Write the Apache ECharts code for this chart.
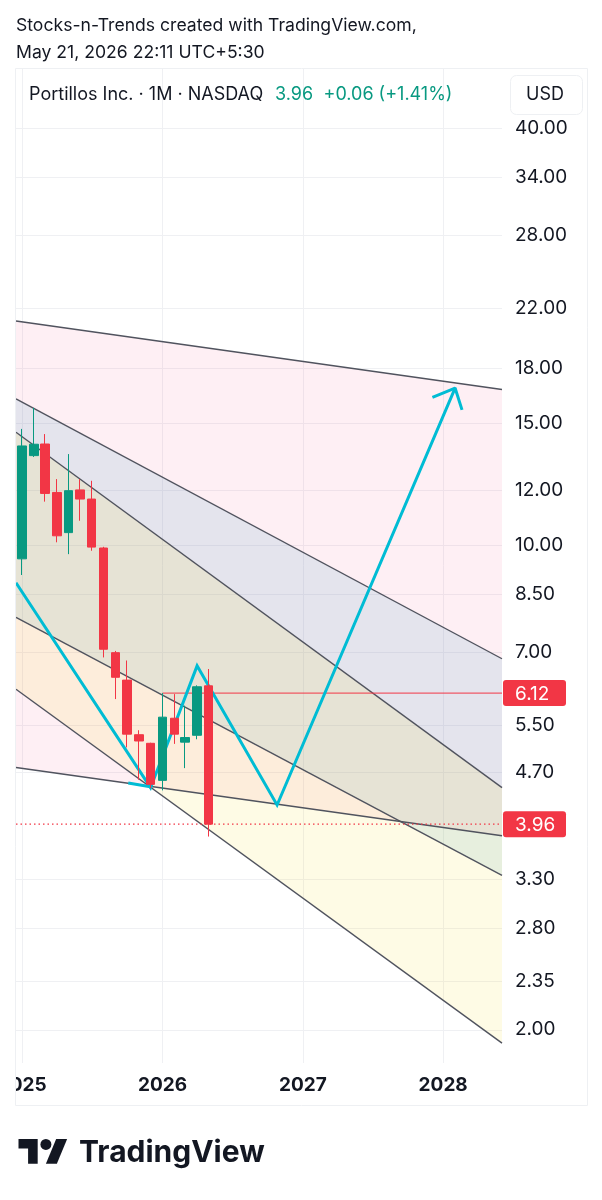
<!DOCTYPE html>
<html><head><meta charset="utf-8">
<script src="https://cdn.jsdelivr.net/npm/echarts@6/dist/echarts.min.js"></script>
<style>html,body{margin:0;padding:0;background:#fff}#c{width:602px;height:1200px}</style>
</head><body><div id="c"></div>
<script>
// ---- data ----
const months = ['2025-01-01','2025-02-01','2025-03-01','2025-04-01','2025-05-01','2025-06-01','2025-07-01','2025-08-01','2025-09-01','2025-10-01','2025-11-01','2025-12-01','2026-01-01','2026-02-01','2026-03-01','2026-04-01','2026-05-01'];
const open  = [9.56, 13.47, 14.00, 11.92, 10.43, 12.02, 11.66, 9.91, 7.00, 6.39, 5.33, 5.18, 4.58, 5.63, 5.20, 5.32, 6.27];
const high  = [14.72, 15.78, 14.47, 12.46, 13.54, 12.46, 12.39, 9.95, 7.04, 6.82, 5.41, 5.19, 6.12, 6.10, 5.87, 6.28, 6.63];
const low   = [9.06, 13.41, 11.56, 10.10, 9.71, 10.85, 9.82, 6.89, 6.00, 5.11, 4.59, 4.46, 4.43, 5.17, 4.77, 5.25, 3.80];
const close = [13.91, 13.99, 11.88, 10.32, 11.99, 11.66, 9.94, 7.08, 6.45, 5.34, 5.22, 4.52, 5.65, 5.34, 5.28, 6.25, 3.96];

const yTicks = [2.00, 2.35, 2.80, 3.30, 4.70, 5.50, 7.00, 8.50, 10.00, 12.00, 15.00, 18.00, 22.00, 28.00, 34.00, 40.00];
const yearTicks = ['2025-01-01','2026-01-01','2027-01-01','2028-01-01'];
const viewStart = '2024-12-16', viewEnd = '2028-06-02';
const yMin = 1.791, yMax = 48.82;

// trend lines: price at viewStart, price at viewEnd
const lineL1 = [21.07, 16.78];
const lineL2 = [16.26, 6.86];
const lineL3 = [14.56, 4.47];
const lineL4 = [7.87, 3.34];
const lineL5 = [6.20, 1.913];
const lineL6 = [4.78, 3.81];

// projection path
const zigzagDates  = ['2024-12-16','2025-12-01','2026-04-01','2026-10-26','2028-02-01'];
const zigzagPrices = [8.83, 4.47, 6.70, 4.22, 16.86];
const arrowDates   = ['2027-12-04','2028-02-01','2028-02-19'];
const arrowPrices  = [16.35, 16.86, 15.68];
const shortDates   = ['2025-10-04','2025-12-04'];
const shortPrices  = [4.54, 4.48];

const resistDate = '2026-01-01';
const resistPrice = 6.12;
const lastPrice = 3.96;
const priceTags = [6.12, 3.96];

// ---- build ----
const T = s => { const p = s.split('-').map(Number); return Date.UTC(p[0], p[1]-1, p[2]); };
const t0 = T(viewStart), t1 = T(viewEnd);
const FONT = 'Inter';
const candleData = months.map((m,i)=>[T(m), open[i], close[i], low[i], high[i]]);
const channels = [
  {top: lineL1, bot: lineL6, color: 'rgba(242,54,120,0.08)'},
  {top: lineL2, bot: lineL4, color: 'rgba(80,170,200,0.15)'},
  {top: lineL3, bot: lineL5, color: 'rgba(250,220,40,0.12)'}
];
const trendLines = [lineL1, lineL2, lineL3, lineL4, lineL5, lineL6];
const pts = (dates, prices) => dates.map((d,i)=>[T(d), prices[i]]);

const series = [];
series.push({
  type:'custom', z:1, silent:true,
  data: channels.map((c)=>[t0, c.top[0]]),
  renderItem: (params, api) => {
    const c = channels[params.dataIndex];
    const p = [api.coord([t0, c.top[0]]), api.coord([t1, c.top[1]]), api.coord([t1, c.bot[1]]), api.coord([t0, c.bot[0]])];
    return {type:'polygon', z2: params.dataIndex, shape:{points: p}, style:{fill: c.color}};
  }
});
trendLines.forEach(l => series.push({
  type:'line', z:3, silent:true, symbol:'none',
  data:[[t0, l[0]],[t1, l[1]]],
  lineStyle:{color:'#50535e', width:1.4}
}));
series.push({type:'line', z:3, symbol:'none', silent:true, data:[[T(resistDate),resistPrice],[t1,resistPrice]], lineStyle:{color:'#f23645', width:1}});
series.push({type:'line', z:3, symbol:'none', silent:true, data:[[t0,lastPrice],[t1,lastPrice]], lineStyle:{color:'#f23645', width:1.3, type:[1.5,3]}});
series.push({type:'line', z:4, symbol:'none', silent:true, data: pts(zigzagDates, zigzagPrices), lineStyle:{color:'#00bcd4', width:3, join:'miter'}});
series.push({type:'line', z:4, symbol:'none', silent:true, data: pts(arrowDates, arrowPrices), lineStyle:{color:'#00bcd4', width:3}});
series.push({type:'line', z:4, symbol:'none', silent:true, data: pts(shortDates, shortPrices), lineStyle:{color:'#00bcd4', width:3}});
series.push({
  type:'candlestick', z:5, barWidth:9, data: candleData,
  itemStyle:{color:'#089981', color0:'#f23645', borderColor:'#089981', borderColor0:'#f23645', borderWidth:1}
});
series.push({
  type:'custom', z:10, silent:true, clip:false,
  data: priceTags.map(p=>[t1, p]),
  renderItem: (params, api) => {
    const p = priceTags[params.dataIndex];
    const pt = api.coord([t1, p]);
    return {type:'group', children:[
      {type:'rect', shape:{x:pt[0]+1, y:pt[1]-13, width:63, height:26, r:3}, style:{fill:'#f23645'}},
      {type:'text', x:pt[0]+13, y:pt[1]+1, style:{text:p.toFixed(2), fill:'#fff', font:'19px '+FONT, verticalAlign:'middle'}}
    ]};
  }
});

// logo geometry (TradingView mark)
const LS = 1.37, LX = 18.5, LY = 1133.5;
const lp = arr => arr.map(([x,y]) => [LX + x*LS, LY + y*LS]);

const chart = echarts.init(document.getElementById('c'), null, {renderer:'canvas'});
chart.setOption({
  animation:false,
  backgroundColor:'#ffffff',
  textStyle:{fontFamily:FONT},
  grid:{left:16, right:100, top:68, bottom:137, containLabel:false, outerBoundsMode:'none'},
  xAxis:{
    type:'value', min:t0, max:t1, scale:true,
    axisLine:{show:false},
    axisTick:{show:false, customValues: yearTicks.map(T)},
    splitLine:{show:true, lineStyle:{color:'#eff0f3', width:1}},
    axisLabel:{customValues: yearTicks.map(T), formatter: v => String(new Date(v).getUTCFullYear()), color:'#131722', fontWeight:'bold', fontSize:19, fontFamily:FONT, margin:13}
  },
  yAxis:{
    type:'log', logBase:10, position:'right', min:yMin, max:yMax,
    axisLine:{show:false},
    axisTick:{show:false, customValues: yTicks},
    splitLine:{show:true, lineStyle:{color:'#eff0f3', width:1}},
    axisLabel:{customValues: yTicks, formatter: v => Number(v).toFixed(2), color:'#131722', fontSize:19, fontFamily:FONT, margin:13, align:'left'}
  },
  series: series,
  graphic:[
    {type:'rect', z:100, shape:{x:15.5, y:68.5, width:572, height:1037}, style:{fill:'none', stroke:'#eef0f3', lineWidth:1}},
    {type:'rect', z:100, shape:{x:0, y:1066, width:15, height:36}, style:{fill:'#fff'}},
    {type:'text', z:100, x:16, y:26, style:{text:'Stocks-n-Trends created with TradingView.com,', fill:'#131722', font:'17.6px '+FONT, verticalAlign:'middle'}},
    {type:'text', z:100, x:16, y:53, style:{text:'May 21, 2026 22:11 UTC+5:30', fill:'#131722', font:'17.6px '+FONT, verticalAlign:'middle'}},
    {type:'text', z:100, x:29, y:95, style:{text:'Portillos Inc. · 1M · NASDAQ', fill:'#131722', font:'18px '+FONT, verticalAlign:'middle'}},
    {type:'text', z:100, x:275, y:95, style:{text:'3.96', fill:'#089981', font:'18px '+FONT, verticalAlign:'middle'}},
    {type:'text', z:100, x:323.5, y:95, style:{text:'+0.06 (+1.41%)', fill:'#089981', font:'18px '+FONT, verticalAlign:'middle'}},
    {type:'rect', z:100, shape:{x:510.5, y:75.5, width:72, height:39, r:6}, style:{fill:'#fff', stroke:'#eef0f3', lineWidth:1}},
    {type:'text', z:101, x:545, y:95, style:{text:'USD', fill:'#131722', font:'18px '+FONT, align:'center', verticalAlign:'middle'}},
    {type:'polygon', z:100, shape:{points: lp([[14,22],[7,22],[7,11],[0,11],[0,4],[14,4]])}, style:{fill:'#131722'}},
    {type:'polygon', z:100, shape:{points: lp([[28,22],[20,22],[27.5,4],[35.5,4]])}, style:{fill:'#131722'}},
    {type:'circle', z:100, shape:{cx:LX+20*LS, cy:LY+8*LS, r:4*LS}, style:{fill:'#131722'}},
    {type:'text', z:100, x:79, y:1153, style:{text:'TradingView', fill:'#131722', font:'bold 30px '+FONT, verticalAlign:'middle'}}
  ]
});
</script></body></html>
